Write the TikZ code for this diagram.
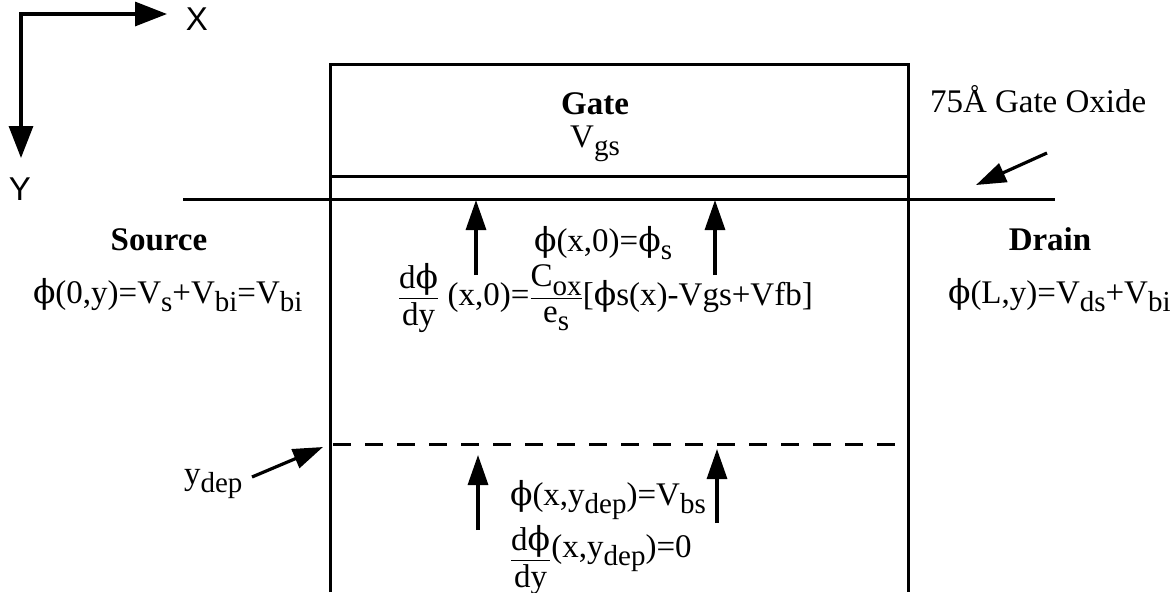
\documentclass[tikz,border=0pt]{standalone}
\usepackage{amsmath}
\usepackage{fontspec}
\setmainfont{Liberation Serif}
\newfontfamily\axisfnt{Liberation Sans}
\newfontfamily\phifnt{DejaVu Serif}
\usetikzlibrary{arrows.meta}
\newcommand{\myfs}{\fontsize{33}{38}\selectfont}
\newcommand{\fphi}{{\phifnt ϕ}}
\newcommand{\sbs}[1]{\raisebox{-0.25em}{\fontsize{29}{31}\selectfont #1}}
\tikzset{
  txt/.style={font=\myfs, inner sep=0pt, outer sep=0pt},
  boldtxt/.style={font=\myfs\bfseries, inner sep=0pt, outer sep=0pt},
  axlbl/.style={font=\axisfnt\fontsize{33}{36}\selectfont, inner sep=0pt},
  ln/.style={line width=3pt},
  uparr/.style={line width=3.2pt, -{Triangle[length=30pt,width=20pt]}},
  axarr/.style={line width=3.2pt, line join=miter,
    {Triangle[length=32pt,width=24pt]}-{Triangle[length=32pt,width=24pt]}},
}
\begin{document}
\begin{tikzpicture}[x=1pt,y=-1pt]
\useasboundingbox (0,0) rectangle (1175,592);
% axes
\coordinate (o) at (21,14);
\coordinate (xe) at (167,14);
\coordinate (ye) at (21,158);
\draw[axarr] (xe) -- (o) -- (ye);
\node[axlbl] (xl) at (197,19) {X};
\node[axlbl] (yl) at (20,189) {Y};
% device
\draw[ln] (330,592) -- (330,64) -- (908,64) -- (908,592);
\draw[ln] (330,176) -- (908,176);
\draw[ln] (183,199) -- (1055,199);
\draw[ln, dash pattern=on 18pt off 14pt] (333,444) -- (895,444);
% arrows top
\coordinate (a1s) at (476,275); \coordinate (a1e) at (476,200);
\coordinate (a2s) at (715,275); \coordinate (a2e) at (715,200);
\draw[uparr] (a1s) -- (a1e);
\draw[uparr] (a2s) -- (a2e);
% arrows bottom
\coordinate (b1s) at (478,530); \coordinate (b1e) at (478,455);
\coordinate (b2s) at (717,523); \coordinate (b2e) at (717,449);
\draw[uparr] (b1s) -- (b1e);
\draw[uparr] (b2s) -- (b2e);
% labels
\node[boldtxt, anchor=base] (gate) at (595,114) {Gate};
\node[txt, anchor=base] (vgs) at (595,147) {V\sbs{gs}};
\node[boldtxt, anchor=base] (src) at (159,250) {Source};
\node[boldtxt, anchor=base] (drn) at (1050,250) {Drain};
\node[txt, anchor=base west] (srceq) at (33,303) {\fphi(0,y)=V\sbs{s}+V\sbs{bi}=V\sbs{bi}};
\node[txt, anchor=base west] (drneq) at (948,303) {\fphi(L,y)=V\sbs{ds}+V\sbs{bi}};
\node[txt, anchor=base west] (phis) at (534,251) {\fphi(x,0)=\fphi\sbs{s}};
\node[txt, anchor=base west] (bc1) at (398,305) {$\dfrac{\mbox{d\fphi}}{\mbox{dy}}$ (x,0)=$\dfrac{\mbox{C\sbs{ox}}}{\mbox{e\sbs{s}}}$[\fphi s(x)-Vgs+Vfb]};
\node[txt, anchor=base west] (bc2) at (510,505) {\fphi(x,y\sbs{dep})=V\sbs{bs}};
\node[txt, anchor=base west] (bc3) at (510,567) {$\dfrac{\mbox{d\fphi}}{\mbox{dy}}$\raisebox{0.3em}{(x,y\sbs{dep})=0}};
\node[txt, anchor=base west] (ydep) at (184,484) {y\sbs{dep}};
\node[txt, anchor=base west] (oxl) at (930,112) {75Å Gate Oxide};
% pointer arrows
\coordinate (oxs) at (1047,153); \coordinate (oxe) at (976,185);
\draw[uparr] (oxs) -- (oxe);
\coordinate (yds) at (252,477); \coordinate (yde) at (323,447);
\draw[uparr] (yds) -- (yde);
\end{tikzpicture}
\end{document}
